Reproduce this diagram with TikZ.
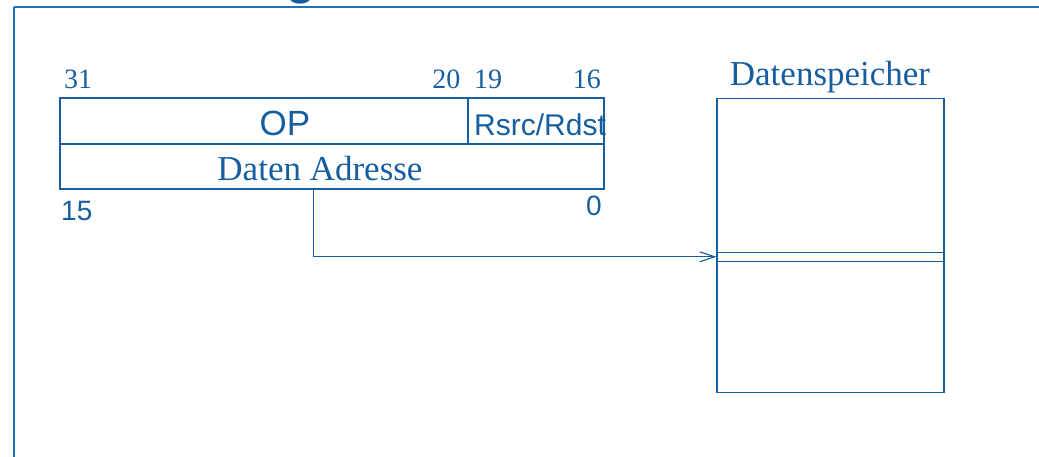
\documentclass[tikz,border=0pt]{standalone}
\usepackage{fontspec}
\setmainfont{Liberation Serif}
\newfontfamily\sansf{Liberation Sans}
\usetikzlibrary{arrows.meta}
\definecolor{ink}{RGB}{22,94,160}
\definecolor{framec}{RGB}{34,114,186}
\tikzset{
  cellbox/.style={draw=ink, line width=1.1pt, rectangle, inner sep=0pt, anchor=center},
  bitnum/.style={text=ink, inner sep=0pt, font=\fontsize{28}{32}\selectfont},
  bitsans/.style={text=ink, inner sep=0pt, font=\sansf\fontsize{28}{32}\selectfont},
  bigserif/.style={text=ink, inner sep=0pt, font=\fontsize{35}{40}\selectfont},
  bigsans/.style={text=ink, inner sep=0pt, font=\sansf\fontsize{35}{40}\selectfont},
  regsans/.style={text=ink, inner sep=0pt, font=\sansf\fontsize{30}{34}\selectfont},
  framel/.style={draw=framec, line width=1.8pt},
  link/.style={draw=ink, line width=1.1pt, -{Straight Barb[length=15pt,width=10pt,line width=1.1pt]}}
}
\begin{document}
\begin{tikzpicture}[x=1pt,y=-1pt]
\useasboundingbox (0,0) rectangle (1039,456);
% frame fragment and cut title letter
\node[text=ink, inner sep=0pt, anchor=base west, font=\sansf\fontsize{56}{60}\selectfont] (titleg) at (285,-7.8) {g};
\draw[framel] (14,7) -- (1045,7);
\draw[framel] (14,7) -- (14,462);
% instruction word
\node[cellbox, minimum width=408pt, minimum height=46pt] (op) at (264,121) {};
\node[cellbox, minimum width=136pt, minimum height=46pt] (reg) at (536,121) {};
\node[cellbox, minimum width=544pt, minimum height=45pt] (addr) at (332,166.5) {};
\node[bigsans, anchor=base] (optext) at (285,135.3) {OP};
\node[regsans, anchor=base west] (regtext) at (474,135.3) {Rsrc/Rdst};
\node[bigserif, anchor=base] (addrtext) at (320,180.3) {Daten Adresse};
% bit numbers
\node[bitnum, anchor=base west] (b31) at (64,88.7) {31};
\node[bitnum, anchor=base east] (b20) at (460.5,88.7) {20};
\node[bitnum, anchor=base west] (b19) at (474,88.7) {19};
\node[bitnum, anchor=base east] (b16) at (601,88.7) {16};
\node[bitsans, anchor=base west] (b15) at (61,220.5) {15};
\node[bitsans, anchor=base east] (b0) at (602,215.5) {0};
% memory
\node[bigserif, anchor=base] (memtitle) at (830,85.7) {Datenspeicher};
\node[cellbox, minimum width=227pt, minimum height=294.5pt] (mem) at (830.5,245.5) {};
\node[cellbox, minimum width=227pt, minimum height=9pt] (memcell) at (830.5,256.8) {};
% connector
\coordinate (tap) at (313.3,189);
\draw[link] (tap) |- (memcell.west);
\end{tikzpicture}
\end{document}
